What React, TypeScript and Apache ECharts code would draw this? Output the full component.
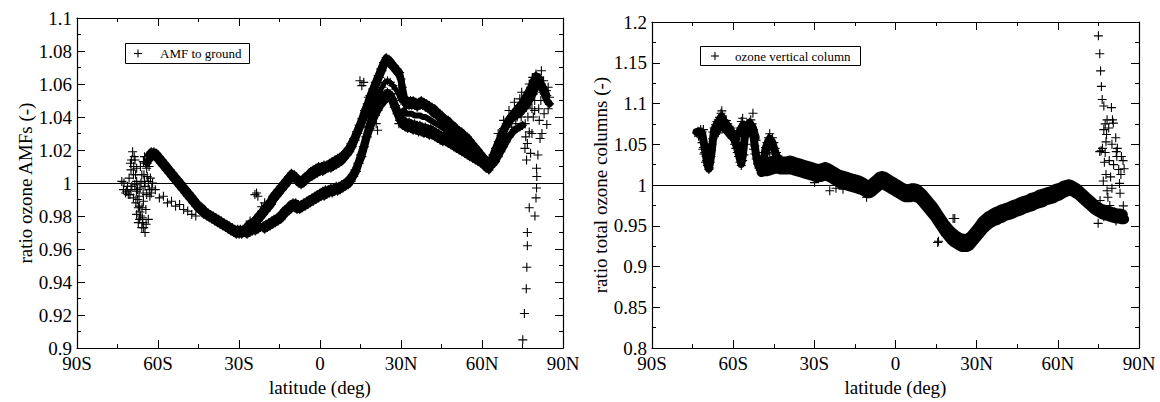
import React, { useEffect, useRef } from "react";
import * as echarts from "echarts";

// ---------- axes ----------
const latTicks = [-90, -60, -30, 0, 30, 60, 90];
const latLabels = ["90S", "60S", "30S", "0", "30N", "60N", "90N"];

// ---------- left panel: ratio ozone AMFs ----------
const amfUpperStart = -64;
const amfUpper = [
  1.012, 1.015, 1.016, 1.016, 1.014, 1.012, 1.010, 1.008, 1.006, 1.004,
  1.002, 1.000, 0.998, 0.996, 0.994, 0.992, 0.990, 0.988, 0.986, 0.984,
  0.983, 0.981, 0.980, 0.979, 0.978, 0.977, 0.976, 0.975, 0.974, 0.973,
  0.972, 0.971, 0.970, 0.969, 0.969, 0.969, 0.970, 0.971, 0.972, 0.973,
  0.975, 0.977, 0.979, 0.981, 0.983, 0.985, 0.987, 0.990, 0.992, 0.994,
  0.996, 0.998, 1.000, 1.002, 1.003, 1.002, 1.000, 0.999, 1.000, 1.002,
  1.003, 1.004, 1.005, 1.006, 1.007, 1.007, 1.008, 1.009, 1.009, 1.010,
  1.011, 1.012, 1.013, 1.015, 1.017, 1.019, 1.022, 1.026, 1.030, 1.034,
  1.038, 1.043, 1.048, 1.052, 1.056, 1.060, 1.064, 1.068, 1.072, 1.074,
  1.072, 1.070, 1.068, 1.066, 1.063, 1.050, 1.047, 1.047, 1.047, 1.047,
  1.046, 1.047, 1.047, 1.046, 1.045, 1.044, 1.042, 1.041, 1.040, 1.038,
  1.037, 1.036, 1.034, 1.033, 1.032, 1.031, 1.030, 1.029, 1.027, 1.026,
  1.024, 1.022, 1.020, 1.018, 1.016, 1.014, 1.012, 1.013, 1.017, 1.021,
  1.025, 1.029, 1.033, 1.036, 1.039, 1.041, 1.043, 1.045, 1.047, 1.049,
  1.052, 1.055, 1.058, 1.062, 1.065, 1.064, 1.060, 1.057, 1.053,
];
const amfUpper2Start = -63.5;
const amfUpper2 = [
  1.017, 1.019, 1.019, 1.018, 1.016, 1.014, 1.012, 1.010, 1.008, 1.006,
  1.004, 1.002, 1.000, 0.998, 0.996, 0.994, 0.992, 0.990, 0.988, 0.986,
  0.985, 0.983, 0.982, 0.981, 0.980, 0.979, 0.978, 0.977, 0.976, 0.975,
  0.974, 0.973, 0.972, 0.972, 0.972, 0.972, 0.973, 0.975, 0.976, 0.977,
  0.979, 0.981, 0.983, 0.985, 0.987, 0.989, 0.992, 0.994, 0.996, 0.998,
  1.000, 1.002, 1.004, 1.006, 1.005, 1.003, 1.002, 1.002, 1.004, 1.005,
  1.007, 1.008, 1.009, 1.010, 1.010, 1.011, 1.011, 1.012, 1.013, 1.014,
  1.015, 1.016, 1.017, 1.019, 1.021, 1.024, 1.027, 1.031, 1.035, 1.039,
  1.044, 1.048, 1.053, 1.057, 1.061, 1.065, 1.069, 1.073, 1.076, 1.075,
  1.073, 1.071, 1.069, 1.067, 1.058, 1.050, 1.050, 1.050, 1.050, 1.049,
  1.049, 1.050, 1.049, 1.048, 1.047, 1.046, 1.045, 1.043, 1.042, 1.040,
  1.039, 1.038, 1.036, 1.035, 1.033, 1.032, 1.031, 1.029, 1.028, 1.026,
  1.024, 1.022, 1.020, 1.018, 1.016, 1.014,
];
// between the two northern-subtropic orbits, 31N to 61N
const amfBetweenStart = 31;
const amfBetween = [
  1.044, 1.042, 1.042, 1.042, 1.041, 1.041, 1.041, 1.040, 1.040, 1.039,
  1.038, 1.037, 1.036, 1.035, 1.034, 1.033, 1.032, 1.031, 1.030, 1.028,
  1.027, 1.026, 1.025, 1.024, 1.023, 1.021, 1.020, 1.018, 1.017, 1.015,
  1.013,
];
const amfLowerStart = -27;
const amfLower = [
  0.969, 0.970, 0.971, 0.971, 0.972, 0.973, 0.974, 0.975, 0.976, 0.977,
  0.978, 0.979, 0.980, 0.982, 0.984, 0.985, 0.987, 0.988, 0.988, 0.987,
  0.987, 0.988, 0.989, 0.990, 0.991, 0.992, 0.993, 0.994, 0.995, 0.996,
  0.996, 0.997, 0.997, 0.998, 0.998, 0.999, 1.000, 1.001, 1.003, 1.005,
  1.008, 1.012, 1.017, 1.022, 1.028, 1.034, 1.039, 1.043, 1.046, 1.049,
  1.052, 1.054, 1.055, 1.054, 1.051, 1.047, 1.043, 1.040, 1.038, 1.037,
  1.037, 1.036, 1.036, 1.035, 1.035, 1.034, 1.034, 1.033, 1.033, 1.032,
  1.031, 1.030, 1.029, 1.029, 1.028, 1.027, 1.026, 1.025, 1.024, 1.023,
  1.022, 1.021, 1.020, 1.019, 1.018, 1.017, 1.016, 1.015, 1.013, 1.011,
  1.010, 1.011, 1.013, 1.016, 1.019, 1.022, 1.025, 1.028, 1.030, 1.032,
  1.033, 1.034, 1.035,
];
const amfLower2Start = -20.5;
const amfLower2 = [
  0.972, 0.973, 0.974, 0.975, 0.976, 0.977, 0.978, 0.980, 0.982, 0.983,
  0.985, 0.985, 0.984, 0.984, 0.985, 0.986, 0.987, 0.988, 0.989, 0.990,
  0.991, 0.992, 0.992, 0.993, 0.994, 0.994, 0.995, 0.995, 0.996, 0.997,
  0.998, 0.999, 1.001, 1.004, 1.007, 1.012, 1.016, 1.022, 1.028, 1.033,
  1.037, 1.041, 1.044, 1.047, 1.049, 1.051, 1.052, 1.050, 1.046, 1.042,
  1.038, 1.035, 1.034, 1.033, 1.033, 1.032, 1.032, 1.031, 1.031, 1.030,
  1.030, 1.029, 1.029, 1.028, 1.027, 1.026, 1.025, 1.025, 1.024, 1.023,
  1.022, 1.021, 1.020, 1.019, 1.018, 1.017, 1.016, 1.015, 1.014, 1.013,
  1.012, 1.011, 1.009, 1.008,
];
const amfMiddleStart = 18;
const amfMiddle = [1.041, 1.045, 1.049, 1.052, 1.055, 1.058, 1.061, 1.062, 1.061, 1.059, 1.057, 1.054, 1.050];
// northern cloud, third orbit 63N to 85N
const amfNorthTrackStart = 63;
const amfNorthTrack = [
  1.011, 1.014, 1.018, 1.022, 1.027, 1.031, 1.034, 1.037, 1.039, 1.040,
  1.041, 1.042, 1.044, 1.046, 1.048, 1.051, 1.054, 1.058, 1.060, 1.058,
  1.054, 1.050, 1.048,
];
const amfSouth = [
  [-73.4, 1.001], [-72.6, 1.0], [-71.6, 0.995], [-71.0, 0.993], [-70.4, 0.993], [-69.1, 0.991],
  [-69.4, 1.019], [-68.5, 1.014], [-67.9, 1.009], [-69.1, 1.005], [-67.3, 0.985], [-67.9, 0.981],
  [-67.3, 0.976], [-66.0, 0.973], [-64.8, 0.970], [-66.7, 0.9825], [-65.4, 0.989], [-64.2, 0.993],
  [-63.6, 1.001], [-64.2, 1.009], [-62.3, 0.997], [-63.6, 0.978], [-66.7, 0.997], [-65.4, 1.013],
  [-66.0, 1.005], [-69.7, 0.998], [-67.9, 1.001], [-70.2, 1.012], [-68.8, 1.016], [-66.5, 1.010],
  [-65.0, 1.016], [-67.0, 0.992], [-68.2, 0.988], [-65.8, 0.979], [-64.5, 0.984], [-63.0, 0.992],
  [-70.0, 0.996], [-72.0, 0.994], [-68.0, 0.995], [-66.3, 1.0], [-64.8, 0.998], [-65.2, 1.005],
  [-63.3, 1.010], [-62.8, 1.003],
  [-72.8, 0.996], [-71.3, 0.998], [-70.7, 1.003], [-70.0, 1.008], [-69.8, 1.014], [-69.0, 1.010],
  [-68.3, 1.005], [-68.6, 0.999], [-67.6, 0.996], [-67.5, 0.990], [-66.9, 0.986], [-66.4, 0.980],
  [-66.8, 0.978], [-65.9, 0.985], [-65.5, 0.994], [-65.0, 1.001], [-64.6, 1.012], [-63.9, 1.016],
  [-64.0, 1.004], [-63.2, 0.996], [-64.4, 0.975], [-65.3, 0.973], [-65.6, 0.976], [-62.0, 1.000],
  [-62.5, 0.994], [-61, 0.996], [-59.5, 0.991], [-58, 0.992], [-56.5, 0.988], [-55, 0.989],
  [-53.5, 0.986], [-52, 0.987], [-50.5, 0.984], [-49, 0.983], [-47.5, 0.981], [-46, 0.980],
];
const amfOutliers = [
  [-25.9, 0.977], [-24.1, 0.993], [-23.5, 0.994], [-23, 0.992], [-21.6, 0.9856], [-20.5, 0.988],
  [14.8, 1.062], [15.5, 1.059], [16.2, 1.061], [17.9, 1.052], [20.8, 1.036], [21.3, 1.032],
  [29, 1.043], [29.2, 1.036], [30, 1.055],
];
const amfNorth = [
  [84, 1.0355], [82.2, 1.030], [81.5, 1.027], [80.7, 1.017], [80.2, 1.009], [80.3, 1.004],
  [80.2, 0.997], [80, 0.991], [77.5, 0.985], [79.6, 0.980], [76.8, 0.970], [76.8, 0.962],
  [76.6, 0.949], [76.4, 0.936], [75.7, 0.921], [75.1, 0.905],
  [74.7, 1.055], [75.9, 1.021], [76.5, 1.014], [76.2, 1.028], [77.5, 1.031], [78, 1.018],
  [76.8, 1.024], [77, 1.040], [78.5, 1.045], [79.5, 1.050], [80.5, 1.058], [81.5, 1.062],
  [82.5, 1.055], [83.5, 1.050], [84.5, 1.058], [85, 1.052], [79, 1.040], [81, 1.045],
  [83, 1.042], [84.5, 1.045], [78, 1.052], [77.5, 1.060], [80, 1.066], [79, 1.058],
  [82, 1.068], [73, 1.040], [71, 1.034], [69, 1.030], [67, 1.025], [65, 1.018],
  [64, 1.013], [62.5, 1.008], [66, 1.030], [68, 1.038], [70, 1.044], [72, 1.049],
  [74, 1.051], [75.5, 1.045], [76, 1.036], [78.5, 1.030], [81.2, 1.038],
  [70.5, 1.030], [72.5, 1.036], [74.5, 1.040], [76.5, 1.046], [79.5, 1.044], [81.8, 1.050],
  [83.8, 1.056], [82.8, 1.062], [80.8, 1.064], [78.8, 1.064], [66.5, 1.021], [68.5, 1.027],
];

// ---------- right panel: ratio total ozone columns ----------
const colUpperStart = -50;
const colUpper = [
  1.027, 1.026, 1.027, 1.028, 1.029, 1.030, 1.030, 1.030, 1.029, 1.029,
  1.029, 1.030, 1.029, 1.028, 1.027, 1.026, 1.025, 1.024, 1.023, 1.022,
  1.021, 1.020, 1.020, 1.021, 1.022, 1.021, 1.019, 1.017, 1.015, 1.013,
  1.012, 1.011, 1.010, 1.009, 1.008, 1.007, 1.006, 1.005, 1.003, 1.001,
  1.000, 1.001, 1.004, 1.007, 1.010, 1.011, 1.010, 1.008, 1.006, 1.004,
  1.002, 1.000, 0.998, 0.996, 0.995, 0.995, 0.996, 0.996, 0.995, 0.992,
  0.989, 0.985, 0.981, 0.977, 0.973, 0.968, 0.963, 0.958, 0.953, 0.949,
  0.945, 0.942, 0.939, 0.937, 0.935, 0.934, 0.934, 0.935, 0.938, 0.942,
  0.946, 0.950, 0.955, 0.958, 0.961, 0.963, 0.965, 0.967, 0.968, 0.970,
  0.971, 0.972, 0.973, 0.975, 0.976, 0.977, 0.979, 0.980, 0.981, 0.982,
  0.984, 0.985, 0.986, 0.988, 0.989, 0.990, 0.991, 0.992, 0.993, 0.995,
  0.996, 0.997, 0.999, 1.000, 1.001, 1.000, 0.998, 0.996, 0.993, 0.990,
  0.987, 0.984, 0.981, 0.978, 0.975, 0.973, 0.971, 0.970, 0.969, 0.968,
  0.967, 0.966, 0.965, 0.965, 0.964,
];
const colLowerStart = -49.5;
const colLower = [
  1.016, 1.017, 1.017, 1.018, 1.019, 1.020, 1.020, 1.019, 1.019, 1.019,
  1.019, 1.019, 1.018, 1.017, 1.016, 1.015, 1.014, 1.013, 1.012, 1.011,
  1.010, 1.010, 1.010, 1.011, 1.011, 1.010, 1.008, 1.006, 1.004, 1.002,
  1.001, 1.000, 0.999, 0.998, 0.997, 0.996, 0.995, 0.994, 0.992, 0.990,
  0.990, 0.992, 0.995, 0.998, 1.001, 1.001, 0.999, 0.997, 0.995, 0.993,
  0.991, 0.989, 0.987, 0.985, 0.985, 0.985, 0.986, 0.985, 0.984, 0.981,
  0.977, 0.973, 0.969, 0.965, 0.961, 0.956, 0.951, 0.946, 0.941, 0.937,
  0.933, 0.930, 0.928, 0.926, 0.924, 0.924, 0.924, 0.926, 0.930, 0.934,
  0.938, 0.942, 0.946, 0.949, 0.952, 0.954, 0.956, 0.957, 0.959, 0.960,
  0.962, 0.963, 0.964, 0.965, 0.967, 0.968, 0.969, 0.971, 0.972, 0.973,
  0.974, 0.976, 0.977, 0.978, 0.979, 0.981, 0.982, 0.983, 0.984, 0.986,
  0.987, 0.989, 0.991, 0.992, 0.993, 0.992, 0.990, 0.988, 0.985, 0.982,
  0.979, 0.976, 0.973, 0.970, 0.968, 0.966, 0.964, 0.963, 0.962, 0.961,
  0.960, 0.959, 0.959, 0.958, 0.958,
];
const colSouthPath = [
  [-73.5, 1.065], [-72.5, 1.066], [-71.5, 1.064], [-71, 1.055], [-70.5, 1.045], [-70, 1.035],
  [-69.5, 1.025], [-69, 1.020], [-68.5, 1.028], [-68, 1.040], [-67.5, 1.055], [-67, 1.068],
  [-66, 1.075], [-65, 1.080], [-64.3, 1.084], [-63.5, 1.078], [-62.5, 1.074], [-61.5, 1.070],
  [-60.5, 1.065], [-59.5, 1.055], [-58.5, 1.045], [-57.5, 1.032], [-57, 1.026], [-56.5, 1.035],
  [-56, 1.050], [-55.5, 1.065], [-55, 1.072], [-54, 1.076], [-53, 1.072], [-52.5, 1.060],
  [-52, 1.048], [-51.5, 1.036], [-51, 1.027], [-50.5, 1.022], [-50, 1.021], [-49, 1.024],
  [-48.5, 1.035], [-48, 1.045], [-47, 1.054], [-46.5, 1.057], [-45.5, 1.052], [-45, 1.046],
  [-44, 1.036], [-43, 1.030], [-42, 1.027],
];
const colSouthPath2 = [
  [-67, 1.060], [-66, 1.066], [-65, 1.070], [-64, 1.074], [-63, 1.068], [-62, 1.064],
  [-61, 1.060], [-60, 1.058], [-59, 1.052], [-58.5, 1.060], [-57.5, 1.068], [-56.5, 1.074],
  [-55.5, 1.060], [-54.5, 1.064], [-53.5, 1.066], [-52.5, 1.070], [-51.5, 1.058],
];
const colSouth = [
  [-73.5, 1.064], [-73, 1.066], [-72.5, 1.062], [-72, 1.068], [-71.5, 1.065], [-71, 1.068],
  [-72.8, 1.060], [-71.8, 1.058],
  [-71.5, 1.052], [-71, 1.046], [-70.5, 1.040], [-70, 1.035], [-70.2, 1.028], [-69.5, 1.024],
  [-69, 1.019], [-68.7, 1.021], [-69.8, 1.030], [-70.8, 1.038], [-71.2, 1.044], [-69.2, 1.033],
  [-68.5, 1.028], [-68.2, 1.035], [-68, 1.042], [-67.8, 1.050], [-67.5, 1.057], [-69.5, 1.045],
  [-70.5, 1.050], [-68.8, 1.040],
  [-67.5, 1.065], [-67, 1.070], [-66.5, 1.074], [-66, 1.078], [-65.5, 1.080], [-65, 1.083],
  [-64.5, 1.088], [-64.2, 1.091], [-64, 1.085], [-63.5, 1.080], [-63, 1.077], [-62.5, 1.079],
  [-62, 1.075], [-61.5, 1.072], [-61, 1.070], [-60.5, 1.067], [-60, 1.062], [-66, 1.068],
  [-65, 1.072], [-64, 1.070], [-63, 1.068], [-62, 1.066], [-61, 1.062], [-60, 1.058],
  [-59.5, 1.055], [-66.5, 1.062], [-65.5, 1.064], [-63.5, 1.072], [-62.5, 1.070],
  [-59.5, 1.050], [-59, 1.045], [-58.5, 1.040], [-58, 1.035], [-57.5, 1.028], [-57, 1.024],
  [-56.5, 1.030], [-56, 1.037], [-58.5, 1.052], [-57.5, 1.046], [-57, 1.040], [-56.5, 1.045],
  [-58, 1.060], [-57.5, 1.070], [-57, 1.078], [-56.5, 1.082], [-56, 1.074], [-55.5, 1.066],
  [-55, 1.060], [-54.5, 1.070], [-54, 1.077], [-53.5, 1.080], [-53, 1.075], [-52.7, 1.088],
  [-52.5, 1.068], [-52, 1.060], [-51.5, 1.055], [-56, 1.065], [-55, 1.072], [-54, 1.064],
  [-53, 1.066], [-58, 1.067],
  [-53, 1.050], [-52.5, 1.044], [-52, 1.038], [-51.5, 1.032], [-51, 1.026], [-50.5, 1.021],
  [-50, 1.018], [-49.5, 1.020], [-49, 1.024], [-51, 1.040], [-50, 1.030], [-49, 1.034],
  [-48.5, 1.028], [-48, 1.020], [-52, 1.048],
  [-48.5, 1.040], [-48, 1.046], [-47.5, 1.052], [-47, 1.058], [-46.5, 1.063], [-46, 1.055],
  [-45.5, 1.058], [-45, 1.052], [-44.5, 1.045], [-44, 1.040], [-43.5, 1.036], [-47, 1.044],
  [-46, 1.048], [-45, 1.042], [-44, 1.034], [-46.5, 1.040], [-45.5, 1.038],
];
const colOutliers = [
  [-29.9, 1.003], [-24.3, 0.993], [-19.4, 0.995], [-22, 0.996], [-10.7, 0.985],
  [21.3, 0.959], [21.9, 0.959], [15.6, 0.9295], [15.9, 0.931],
];
const colNorth = [
  [75, 1.183], [75.5, 1.161], [75.8, 1.140], [76.1, 1.121], [76.4, 1.105], [77, 1.097],
  [79.8, 1.095], [80.2, 1.080], [80.5, 1.076], [78.2, 1.080], [77, 1.068], [78, 1.062],
  [81.4, 1.058], [77.8, 1.053], [76, 1.042], [76.5, 1.045], [77.5, 1.040], [81.6, 1.041],
  [75.5, 1.041], [77.2, 1.028], [80.6, 1.025], [84.1, 1.030], [82.5, 1.019], [83.3, 1.013],
  [77.8, 1.013], [76.8, 1.005], [82.8, 1.002], [78.2, 0.993], [80.0, 0.996], [83.0, 0.990],
  [75.6, 0.981], [79.2, 0.975], [84.2, 0.9745], [81.0, 0.967], [77.0, 0.961], [74.9, 0.953],
  [84.0, 0.960], [81.5, 0.956], [78.5, 0.985], [79.5, 1.010], [81.8, 1.035], [82.0, 1.045],
  [83.5, 1.035], [84.5, 1.020], [79.0, 1.030], [80.0, 1.050], [78.8, 1.070], [77.5, 1.075],
];

// ---------- helpers ----------
const toPts = (start: number, vals: number[]) => vals.map((v, i) => [start + i, v]);
const CROSS = "path://M0,5L10,5M5,0L5,10";
const FONT = "Liberation Serif";

function scatter(data: number[][], gi: number, extra: any = {}) {
  return {
    type: "scatter",
    xAxisIndex: gi,
    yAxisIndex: gi,
    data,
    symbol: CROSS,
    symbolSize: 9,
    silent: true,
    z: 3,
    itemStyle: { color: "#000", borderColor: "#000", borderWidth: 1.1, opacity: 1 },
    ...extra,
  };
}

function band(data: number[][], gi: number, width: number) {
  return {
    type: "line",
    xAxisIndex: gi,
    yAxisIndex: gi,
    data,
    symbol: "none",
    showSymbol: false,
    silent: true,
    z: 2,
    lineStyle: { color: "#000", width, cap: "round", join: "round" },
  };
}

const refLine = {
  silent: true,
  symbol: ["none", "none"],
  label: { show: false },
  lineStyle: { color: "#000", width: 1, type: "solid" },
  data: [{ yAxis: 1 }],
};

function xAxes(gi: number, top: boolean) {
  return {
    type: "value",
    gridIndex: gi,
    min: -90,
    max: 90,
    interval: 30,
    position: top ? "top" : "bottom",
    name: top ? "" : "latitude (deg)",
    nameLocation: "middle",
    nameGap: 7,
    nameTextStyle: { fontFamily: FONT, fontSize: 19, color: "#000", verticalAlign: "top" },
    axisLine: { show: true, onZero: false, lineStyle: { color: "#000", width: 1.2 } },
    axisTick: { show: true, inside: true, length: 8, lineStyle: { color: "#000", width: 1 } },
    minorTick: { show: true, splitNumber: 2, length: 4, lineStyle: { color: "#000", width: 1 } },
    splitLine: { show: false },
    axisLabel: {
      show: !top,
      margin: 6,
      fontFamily: FONT,
      fontSize: 19,
      color: "#000",
      formatter: (v: number) => {
        const k = latTicks.indexOf(Math.round(v));
        return k >= 0 ? latLabels[k] : "";
      },
    },
  };
}

function yAxes(gi: number, right: boolean, min: number, max: number, step: number, name: string) {
  return {
    type: "value",
    gridIndex: gi,
    min,
    max,
    interval: step,
    position: right ? "right" : "left",
    name: right ? "" : name,
    nameLocation: "middle",
    nameGap: 40,
    nameTextStyle: { fontFamily: FONT, fontSize: 19, color: "#000" },
    axisLine: { show: true, onZero: false, lineStyle: { color: "#000", width: 1.2 } },
    axisTick: { show: true, inside: true, length: 8, lineStyle: { color: "#000", width: 1 } },
    minorTick: { show: true, splitNumber: 2, length: 4, lineStyle: { color: "#000", width: 1 } },
    splitLine: { show: false },
    axisLabel: {
      show: !right,
      margin: 5,
      fontFamily: FONT,
      fontSize: 19,
      color: "#000",
      formatter: (v: number) => String(Math.round(v * 100) / 100),
    },
  };
}

function legendBox(x: number, y: number, w: number, h: number, cx: number, tx: number, label: string) {
  const cy = y + h / 2;
  return [
    { type: "rect", shape: { x, y, width: w, height: h }, style: { fill: "#fff", stroke: "#000", lineWidth: 1 }, z: 10 },
    { type: "line", shape: { x1: cx - 4, y1: cy, x2: cx + 4, y2: cy }, style: { stroke: "#000", lineWidth: 1.1 }, z: 11 },
    { type: "line", shape: { x1: cx, y1: cy - 4, x2: cx, y2: cy + 4 }, style: { stroke: "#000", lineWidth: 1.1 }, z: 11 },
    {
      type: "text",
      x: tx,
      y: cy,
      style: { text: label, fontFamily: FONT, fontSize: 13, fill: "#000", verticalAlign: "middle" },
      z: 11,
    },
  ];
}

export default function App() {
  const ref = useRef<HTMLDivElement>(null);
  useEffect(() => {
    if (!ref.current) return;
    const chart = echarts.init(ref.current, undefined, { renderer: "svg" });
    const uA = toPts(amfUpperStart, amfUpper);
    const uA2 = toPts(amfUpper2Start, amfUpper2);
    const mD = toPts(amfBetweenStart, amfBetween);
    const lB = toPts(amfLowerStart, amfLower);
    const lB2 = toPts(amfLower2Start, amfLower2);
    const mC = toPts(amfMiddleStart, amfMiddle);
    const nT = toPts(amfNorthTrackStart, amfNorthTrack);
    const cU = toPts(colUpperStart, colUpper);
    const cL = toPts(colLowerStart, colLower);
    chart.setOption({
      animation: false,
      backgroundColor: "#fff",
      textStyle: { fontFamily: FONT },
      grid: [
        { left: 77, top: 18, width: 486, height: 341 },
        { left: 652, top: 22, width: 487, height: 337 },
      ],
      xAxis: [xAxes(0, false), xAxes(1, false), xAxes(0, true), xAxes(1, true)],
      yAxis: [
        yAxes(0, false, 0.9, 1.1, 0.02, "ratio ozone AMFs (-)"),
        yAxes(1, false, 0.8, 1.2, 0.05, "ratio total ozone columns (-)"),
        yAxes(0, true, 0.9, 1.1, 0.02, ""),
        yAxes(1, true, 0.8, 1.2, 0.05, ""),
      ],
      series: [
        band(uA, 0, 7),
        band(uA2, 0, 7),
        band(mD, 0, 6),
        band(lB, 0, 7),
        band(lB2, 0, 7),
        band(mC, 0, 5),
        band(nT, 0, 7),
        scatter(uA, 0, { name: "AMF to ground", markLine: refLine }),
        scatter(uA2, 0),
        scatter(lB, 0),
        scatter(lB2, 0),
        scatter(mC, 0),
        scatter(nT, 0),
        scatter(amfSouth, 0),
        scatter(amfOutliers, 0),
        scatter(amfNorth, 0),
        band(cU, 1, 10),
        band(cL, 1, 10),
        band(colSouthPath, 1, 8),
        band(colSouthPath2, 1, 7),
        scatter(cU, 1, { name: "ozone vertical column", markLine: refLine }),
        scatter(cL, 1),
        scatter(colSouth, 1),
        scatter(colOutliers, 1),
        scatter(colNorth, 1),
      ],
      graphic: [
        ...legendBox(125.5, 43.5, 124, 20, 138, 160, "AMF to ground"),
        ...legendBox(700.5, 46.5, 160, 19, 715, 735, "ozone vertical column"),
      ],
    });
    return () => chart.dispose();
  }, []);
  return <div ref={ref} style={{ position: "fixed", left: 0, top: 0, width: 1160, height: 402, background: "#fff" }} />;
}
